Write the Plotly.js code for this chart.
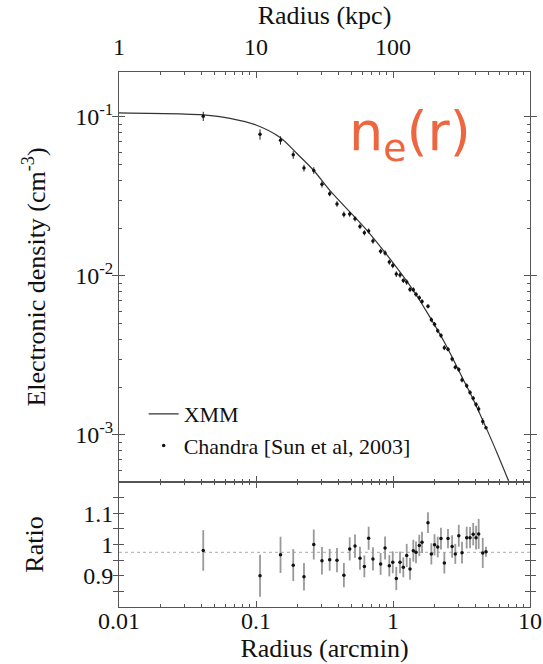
<!DOCTYPE html>
<html>
<head>
<meta charset="utf-8">
<script src="https://cdn.plot.ly/plotly-3.0.1.min.js"></script>
<style>
html,body{margin:0;padding:0;background:#fff;}
#chart{width:543px;height:664px;}
#chart .main-svg text{font-family:'Liberation Serif', serif !important;}
#chart .main-svg .annotation text{font-family:'DejaVu Sans', sans-serif !important;}
</style>
</head>
<body>
<div id="chart"></div>
<script>
// XMM model curve (radius in arcmin, electron density in cm^-3)
const xmmRadius = [0.01,0.0279,0.0412,0.0646,0.1,0.150,0.198,0.262,0.347,0.643,0.951,1.40,1.80,2.40,3.24,3.65,4.85,5.83,7.03,7.40];
const xmmDensity = [0.106,0.1045,0.103,0.098,0.0891,0.0744,0.0591,0.0464,0.0344,0.01945,0.0128,0.00816,0.00577,0.00376,0.00225,0.001845,0.00108,0.000748,0.000506,0.000457];

// Chandra points (radius in arcmin)
const chandraRadius = [0.0412,0.107,0.151,0.187,0.224,0.264,0.303,0.345,0.390,0.438,0.483,0.528,0.574,0.618,0.664,0.714,0.812,0.875,0.940,0.996,1.057,1.125,1.189,1.259,1.331,1.407,1.472,1.556,1.629,1.80,1.905,2.01,2.12,2.24,2.37,2.52,2.70,2.85,3.02,3.19,3.45,3.65,3.85,4.04,4.22,4.52,4.77];
const chandraDensity = [0.1011,0.0778,0.0713,0.0578,0.0477,0.0461,0.0377,0.0329,0.0284,0.0244,0.0245,0.0229,0.0205,0.0187,0.0192,0.0166,0.0143,0.01397,0.01222,0.01162,0.01028,0.01013,0.00935,0.00915,0.00822,0.00819,0.00767,0.00729,0.00692,0.00645,0.00530,0.00497,0.00452,0.00422,0.00354,0.00346,0.0030,0.00267,0.00258,0.00222,0.00204,0.00185,0.00170,0.001556,0.001458,0.001216,0.001111];
const ratio = [0.981,0.90,0.967,0.934,0.897,1.0,0.948,0.951,0.950,0.902,0.986,0.995,0.956,0.930,1.02,0.954,0.938,0.989,0.932,0.943,0.891,0.943,0.927,0.965,0.922,0.980,0.975,0.997,1.007,1.07,0.970,0.999,0.992,1.019,0.941,1.019,0.994,0.970,1.028,0.974,1.022,1.022,1.033,1.022,1.034,0.973,0.977];
const ratioErr = [0.065,0.067,0.058,0.051,0.044,0.048,0.044,0.035,0.039,0.039,0.037,0.037,0.037,0.035,0.037,0.037,0.035,0.037,0.034,0.035,0.037,0.035,0.032,0.037,0.035,0.035,0.035,0.034,0.034,0.033,0.034,0.034,0.033,0.035,0.034,0.031,0.036,0.032,0.035,0.035,0.035,0.034,0.036,0.038,0.048,0.048,0.016];
const ratioRefLevel = [0.975];

// Axis tick labels
const arcminTicks = [0.01,0.1,1,10];
const arcminLabels = ['0.01','0.1','1','10'];
const kpcTicks = [1,10,100,1000];
const kpcLabels = ['1','10','100',''];
const kpcRange = [1,1000];
const densityTicks = [0.001,0.01,0.1];
const densityLabels = ['10<sup>-3</sup>','10<sup>-2</sup>','10<sup>-1</sup>'];
const ratioTicks = [0.85,0.9,0.95,1,1.05,1.1,1.15];
const ratioLabels = ['','0.9','','1','','1.1',''];

const FONT = 'Liberation Serif';
const AX = '#555';
const splitFrac = 125/535;

// minor tick positions (2..9 within each decade)
function minorLogVals(decades){
  const out = [];
  decades.forEach(d => { for (let k=2;k<=9;k++) out.push(k*d); });
  return out;
}
const minorArcmin = minorLogVals([0.01,0.1,1]);
const minorKpc = minorLogVals([1,10,100]);
const minorDensity = minorLogVals([0.0001,0.001,0.01]);

const densityErr = chandraDensity.map((d,i)=> d*ratioErr[i]/ratio[i]);

const traces = [
  {x: xmmRadius, y: xmmDensity, xaxis:'x2', yaxis:'y', mode:'lines', name:'XMM',
   line:{color:'#333', width:1.2, shape:'spline', smoothing:1}, hoverinfo:'skip'},
  {x: chandraRadius, y: chandraDensity, xaxis:'x2', yaxis:'y', mode:'markers', name:'Chandra [Sun et al, 2003]',
   marker:{color:'#111', size:3.5}, error_y:{type:'data', array:densityErr, color:'#222', thickness:1, width:0}},
  {x: [arcminTicks[0], arcminTicks[3]], y: [ratioRefLevel[0], ratioRefLevel[0]], xaxis:'x', yaxis:'y2', mode:'lines',
   line:{color:'#aaa', width:1, dash:'dot'}, showlegend:false, hoverinfo:'skip'},
  {x: chandraRadius, y: ratio, xaxis:'x', yaxis:'y2', mode:'markers', showlegend:false,
   marker:{color:'#111', size:3.5}, error_y:{type:'data', array:ratioErr, color:'#999', thickness:1.8, width:0}},
  // invisible helpers so the overlaid tick-only axes get drawn
  {x: kpcRange, y: [null,null], xaxis:'x3', yaxis:'y', mode:'lines', showlegend:false, hoverinfo:'skip'},
  {x: kpcRange, y: [null,null], xaxis:'x5', yaxis:'y', mode:'lines', showlegend:false, hoverinfo:'skip'},
  {x: [arcminTicks[0], arcminTicks[3]], y: [null,null], xaxis:'x4', yaxis:'y', mode:'lines', showlegend:false, hoverinfo:'skip'},
  {x: [arcminTicks[0], arcminTicks[3]], y: [null,null], xaxis:'x6', yaxis:'y2', mode:'lines', showlegend:false, hoverinfo:'skip'},
  {x: [arcminTicks[0], arcminTicks[3]], y: [null,null], xaxis:'x2', yaxis:'y3', mode:'lines', showlegend:false, hoverinfo:'skip'}
];

const tf = {family:FONT, size:24, color:'#111'};
const ttf = {family:FONT, size:26, color:'#111'};
const base = {showgrid:false, zeroline:false, tickcolor:AX, linecolor:AX, linewidth:1, tickwidth:1};
const minorAxis = (o) => Object.assign({}, base, {showticklabels:false, ticks:'inside', ticklen:3, tickmode:'array', showline:false}, o);

const layout = {
  width:543, height:664,
  margin:{l:119, r:13, t:72, b:57},
  paper_bgcolor:'#fff', plot_bgcolor:'#fff',
  font:{family:FONT, color:'#111', size:24},
  showlegend:true,
  legend:{x:0.06, y:0.40, xanchor:'left', yanchor:'top', bgcolor:'rgba(0,0,0,0)',
          font:{family:FONT, size:22, color:'#111'}, tracegroupgap:0},
  xaxis:Object.assign({}, base, {type:'log', range:[-2,1], anchor:'y2', domain:[0,1],
         tickmode:'array', tickvals:arcminTicks, ticktext:arcminLabels, ticks:'inside', ticklen:6,
         showline:true, mirror:'allticks', tickfont:tf, ticklabelstandoff:-8,
         title:{text:'Radius (arcmin)', font:ttf, standoff:0}}),
  xaxis2:Object.assign({}, base, {type:'log', range:[-2,1], anchor:'y', showticklabels:false,
          tickmode:'array', tickvals:arcminTicks, ticks:'inside', ticklen:6, showline:true}),
  xaxis3:Object.assign({}, base, {type:'log', range:[0,3], overlaying:'x2', anchor:'y', side:'top',
          tickmode:'array', tickvals:kpcTicks, ticktext:kpcLabels, ticks:'inside', ticklen:6, showline:true,
          tickfont:tf, ticklabelstandoff:6, title:{text:'Radius (kpc)', font:ttf, standoff:2}}),
  xaxis4:minorAxis({type:'log', range:[-2,1], overlaying:'x2', anchor:'y', side:'bottom', tickvals:minorArcmin}),
  xaxis5:minorAxis({type:'log', range:[0,3], overlaying:'x2', anchor:'y', side:'top', tickvals:minorKpc}),
  xaxis6:minorAxis({type:'log', range:[-2,1], overlaying:'x', anchor:'y2', side:'bottom', tickvals:minorArcmin, mirror:'allticks'}),
  yaxis:Object.assign({}, base, {type:'log', domain:[splitFrac,1], range:[-3.296,-0.717], anchor:'x2',
         tickmode:'array', tickvals:densityTicks, ticktext:densityLabels, ticks:'inside', ticklen:6,
         showline:true, mirror:'allticks', tickfont:tf,
         title:{text:'Electronic density (cm<sup>-3</sup>)', font:ttf, standoff:22}}),
  yaxis3:minorAxis({type:'log', range:[-3.296,-0.717], overlaying:'y', anchor:'x2', side:'left', tickvals:minorDensity, mirror:'allticks'}),
  yaxis2:Object.assign({}, base, {domain:[0,splitFrac], range:[0.8,1.2], anchor:'x',
          tickmode:'array', tickvals:ratioTicks, ticktext:ratioLabels, ticks:'inside', ticklen:5,
          showline:true, mirror:'allticks',
          tickfont:tf, title:{text:'Ratio', font:ttf, standoff:32}}),
  annotations:[
    {xref:'paper', yref:'paper', x:(410-119)/411, y:(607-135)/535, xanchor:'center', yanchor:'middle',
     text:'n<sub>e</sub>(r)', showarrow:false,
     font:{family:'DejaVu Sans', size:54, color:'#EE6640'}}
  ]
};

Plotly.newPlot('chart', traces, layout, {displayModeBar:false, staticPlot:true});
</script>
</body>
</html>
